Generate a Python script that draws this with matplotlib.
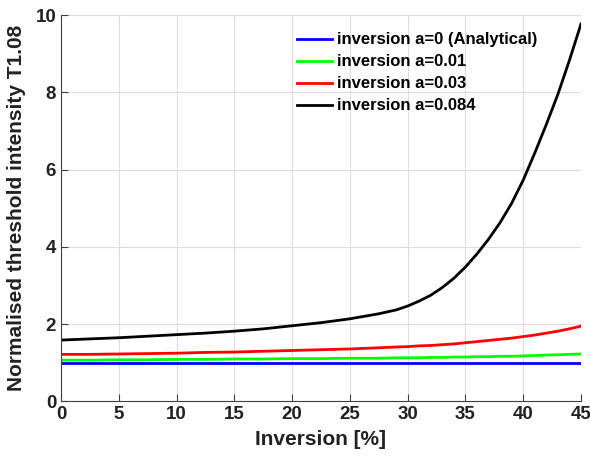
import matplotlib.pyplot as plt

plt.rcParams['font.family'] = ['Liberation Sans', 'DejaVu Sans']
plt.rcParams['font.weight'] = 'bold'

inversion = [0, 2.5, 5, 7.5, 10, 12.5, 15, 17.5, 20, 22.5, 25, 27.5, 29, 30,
             31, 32, 33, 34, 35, 36, 37, 38, 39, 40, 41, 42, 43, 44, 45]
a0 = [1.0] * len(inversion)
a001 = [1.07, 1.07, 1.08, 1.08, 1.09, 1.09, 1.10, 1.10, 1.11, 1.11, 1.12,
        1.12, 1.13, 1.13, 1.13, 1.14, 1.14, 1.15, 1.15, 1.16, 1.16, 1.17,
        1.17, 1.18, 1.19, 1.20, 1.21, 1.22, 1.23]
a003 = [1.22, 1.22, 1.23, 1.24, 1.25, 1.27, 1.28, 1.30, 1.32, 1.34, 1.36,
        1.39, 1.41, 1.42, 1.44, 1.45, 1.47, 1.49, 1.52, 1.55, 1.58, 1.61,
        1.64, 1.68, 1.72, 1.77, 1.82, 1.88, 1.95]
a0084 = [1.59, 1.62, 1.65, 1.69, 1.73, 1.77, 1.82, 1.88, 1.96, 2.04, 2.14,
         2.27, 2.37, 2.47, 2.60, 2.75, 2.95, 3.19, 3.48, 3.82, 4.20, 4.63,
         5.13, 5.73, 6.43, 7.17, 7.95, 8.83, 9.77]

fig = plt.figure(figsize=(5.9, 4.59), dpi=100)
ax = fig.add_axes([0.1034, 0.1253, 0.8813, 0.8417])

lw = 2.0
ax.plot(inversion, a0, color='#0000ff', lw=lw, label='inversion a=0 (Analytical)')
ax.plot(inversion, a001, color='#00ff00', lw=lw, label='inversion a=0.01')
ax.plot(inversion, a003, color='#ff0000', lw=lw, label='inversion a=0.03')
ax.plot(inversion, a0084, color='#000000', lw=lw, label='inversion a=0.084')

ax.set_xlim(0, 45)
ax.set_ylim(0, 10)
ax.set_xticks(range(0, 46, 5))
ax.set_yticks(range(0, 11, 2))
ax.grid(True, color='#dcdcdc', lw=0.8)
ax.set_axisbelow(True)

for s in ['top', 'right']:
    ax.spines[s].set_visible(False)
for s in ['left', 'bottom']:
    ax.spines[s].set_color('#404040')
    ax.spines[s].set_linewidth(0.8)
ax.tick_params(direction='in', length=5, color='#404040', labelsize=13.5,
               labelcolor='#222222')

ax.set_xlabel('Inversion [%]', fontsize=15, fontweight='bold', color='#222222', labelpad=5)
ax.set_ylabel('Normalised threshold intensity T1.08', fontsize=15,
              fontweight='bold', color='#222222', labelpad=7)

ax.legend(loc='upper left', bbox_to_anchor=(0.4915, 0.944), bbox_transform=fig.transFigure,
          frameon=False, fontsize=12, handlelength=2.1, handletextpad=0.3,
          labelspacing=0.42, borderaxespad=0)

fig.savefig('out.png', dpi=100)
